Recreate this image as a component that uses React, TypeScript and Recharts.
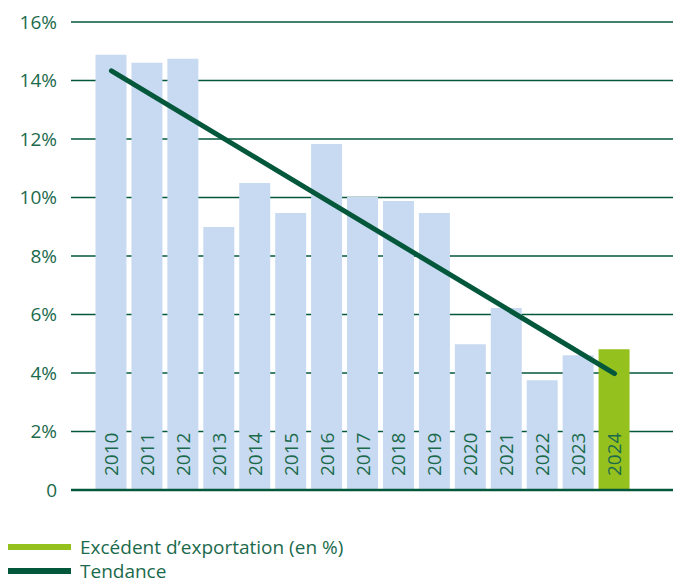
import { Bar, Cell, ComposedChart, CartesianGrid, LabelList, Line, ReferenceLine, XAxis, YAxis } from "recharts";

const years = ["2010", "2011", "2012", "2013", "2014", "2015", "2016", "2017", "2018", "2019", "2020", "2021", "2022", "2023", "2024"];
const surplus = [14.88, 14.61, 14.74, 8.99, 10.5, 9.47, 11.83, 10.02, 9.88, 9.47, 4.98, 6.22, 3.75, 4.61, 4.81];
// only the ends of the trend line are read, the line joins them
const trend = [14.33, null, null, null, null, null, null, null, null, null, null, null, null, null, 3.98];
const yTicks = [0, 2, 4, 6, 8, 10, 12, 14, 16];

const data = years.map((year, i) => ({ year, surplus: surplus[i], trend: trend[i] }));

const FONT = "'Open Sans', sans-serif";
const TEXT = "#1b6a4c";
const DARK = "#03573b";
const BLUE = "#c8daf1";
const LIME = "#95c11f";

const YearLabel = (props: any) => {
  const { x, y, width, height, value } = props;
  const cx = x + width / 2 + 7;
  const by = y + height - 14;
  return (
    <text x={ cx } y={ by } transform={ `rotate(-90 ${ cx } ${ by })` } fill={ TEXT } fontSize={ 19 }
          fontFamily={ FONT } textAnchor="start">{ value }</text>
  );
};

const LegendRow = ({ color, label, top }: { color: string; label: string; top: number }) => (
  <div style={ { position: "absolute", left: 8, top, display: "flex", alignItems: "center", height: 24 } }>
    <div style={ { width: 63, height: 6, background: color } }/>
    <span style={ { marginLeft: 9, color: TEXT, fontFamily: FONT, fontSize: 19, whiteSpace: "nowrap" } }>{ label }</span>
  </div>
);

const App = () => (
  <div style={ { position: "absolute", left: 0, top: 0, width: 673, height: 583, overflow: "hidden", background: "#fff" } }>
    <ComposedChart width={ 673 } height={ 515 } data={ data } margin={ { top: 22, right: 0, bottom: 25, left: 0 } }>
      <CartesianGrid vertical={ false } stroke={ DARK } strokeWidth={ 1.3 }/>
      <XAxis dataKey="year" hide padding={ { left: 22.5, right: 40.5 } }/>
      <YAxis domain={ [0, 16] } ticks={ yTicks } interval={ 0 } width={ 71 } axisLine={ false } tickLine={ false }
             tickSize={ 0 } tickMargin={ 14 } tickFormatter={ (v: number) => (v === 0 ? "0" : `${ v }%`) }
             tick={ { fill: TEXT, fontSize: 19, fontFamily: FONT } }/>
      <Bar dataKey="surplus" barSize={ 31 } isAnimationActive={ false }>
        { data.map((d, i) => <Cell key={ d.year } fill={ i === data.length - 1 ? LIME : BLUE }/>) }
        <LabelList dataKey="year" content={ YearLabel }/>
      </Bar>
      <ReferenceLine y={ 0 } stroke={ DARK } strokeWidth={ 2.5 }/>
      <Line dataKey="trend" stroke={ DARK } strokeWidth={ 5 } strokeLinecap="round" dot={ false } connectNulls
            isAnimationActive={ false }/>
    </ComposedChart>
    <LegendRow color={ LIME } label="Excédent d’exportation (en %)" top={ 535 }/>
    <LegendRow color={ DARK } label="Tendance" top={ 559 }/>
  </div>
);

export default App;
